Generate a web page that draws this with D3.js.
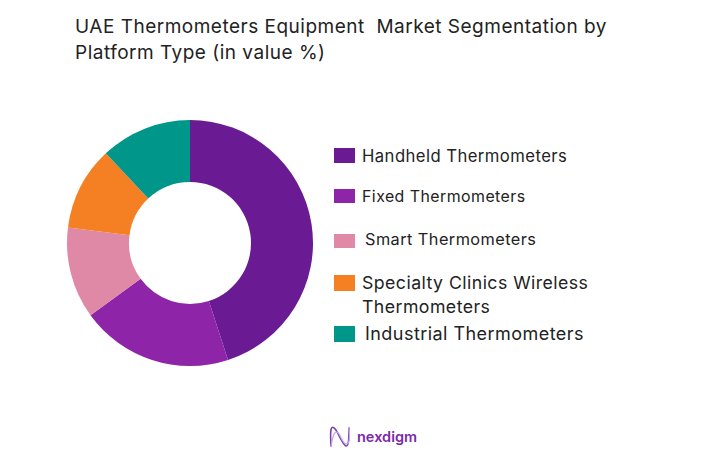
<!DOCTYPE html>
<html>
<head>
<meta charset="utf-8">
<script src="https://cdn.jsdelivr.net/npm/d3@7"></script>
<style>
  html, body { margin: 0; padding: 0; background: #fff; }
  text { font-family: Inter, "Open Sans", sans-serif; fill: #222; }
</style>
</head>
<body>
<div id="chart"></div>
<script>
var categories = ["Handheld Thermometers", "Fixed Thermometers", "Smart Thermometers", "Specialty Clinics Wireless Thermometers", "Industrial Thermometers"];
var shares = [45, 20, 12, 11, 12];
var colors = ["#6a1b94", "#8e24a8", "#df89a6", "#f58024", "#00968a"];
var titleLines = ["UAE Thermometers Equipment  Market Segmentation by", "Platform Type (in value %)"];

var width = 728,
    height = 470;

var svg = d3.select("#chart")
    .append("svg")
    .attr("width", width)
    .attr("height", height)
    .style("display", "block");

// title
svg.selectAll("text.title")
    .data(titleLines)
    .enter()
    .append("text")
    .attr("class", "title")
    .attr("xml:space", "preserve")
    .style("white-space", "pre")
    .style("letter-spacing", "0.5px")
    .attr("x", 75)
    .attr("y", function (d, i) { return 33 + i * 25.5; })
    .attr("font-size", 19)
    .text(function (d) { return d; });

// donut
var pie = d3.pie().sort(null);
var arc = d3.arc().innerRadius(61).outerRadius(123);

svg.append("g")
    .attr("transform", "translate(190,243)")
    .selectAll("path")
    .data(pie(shares))
    .enter()
    .append("path")
    .attr("fill", function (d, i) { return colors[i]; })
    .attr("d", arc);

// legend, hand placed like the original (its labels are not all one size)
var swatchY = [148, 189, 234, 275, 326];
var swatchH = [15, 14, 14, 16, 16];
var labelX = [362, 362, 365, 362, 365];
var labelY = [162, 202, 245, 289, 340];
var labelSize = [16.65, 15.9, 16.3, 17.7, 18];

var legend = svg.append("g");

legend.selectAll("rect")
    .data(categories)
    .enter()
    .append("rect")
    .attr("x", 334)
    .attr("y", function (d, i) { return swatchY[i]; })
    .attr("width", 21)
    .attr("height", function (d, i) { return swatchH[i]; })
    .attr("fill", function (d, i) { return colors[i]; });

legend.selectAll("text")
    .data(categories)
    .enter()
    .append("text")
    .attr("x", function (d, i) { return labelX[i]; })
    .attr("y", function (d, i) { return labelY[i]; })
    .attr("font-size", function (d, i) { return labelSize[i]; })
    .style("letter-spacing", "0.45px")
    .each(function (d) {
        // only the long label wraps
        var el = d3.select(this);
        var x = el.attr("x");
        if (d.indexOf("Wireless") > -1) {
            el.append("tspan").attr("x", x).text("Specialty Clinics Wireless");
            el.append("tspan").attr("x", x).attr("dy", 24).text("Thermometers");
        } else {
            el.text(d);
        }
    });

// nexdigm logo
var logo = svg.append("g").attr("fill", "none").attr("stroke-linecap", "round");
var wave = d3.line().curve(d3.curveBasis);
logo.append("path")
    .attr("d", wave([[331, 446], [330, 426], [335, 427], [341, 440], [347, 449], [349, 440], [349, 428]]))
    .attr("stroke", "#7b3fb5")
    .attr("stroke-width", 1.6);
logo.append("path")
    .attr("d", wave([[331, 446], [334, 431], [339, 432], [343, 443], [348, 445], [350, 438], [349, 428]]))
    .attr("stroke", "#c9a6e4")
    .attr("stroke-width", 1.2);

svg.append("text")
    .attr("x", 357)
    .attr("y", 442)
    .attr("font-size", 14.5)
    .attr("font-weight", 600)
    .style("fill", "#7a2aa8")
    .text("nexdigm");
</script>
</body>
</html>
